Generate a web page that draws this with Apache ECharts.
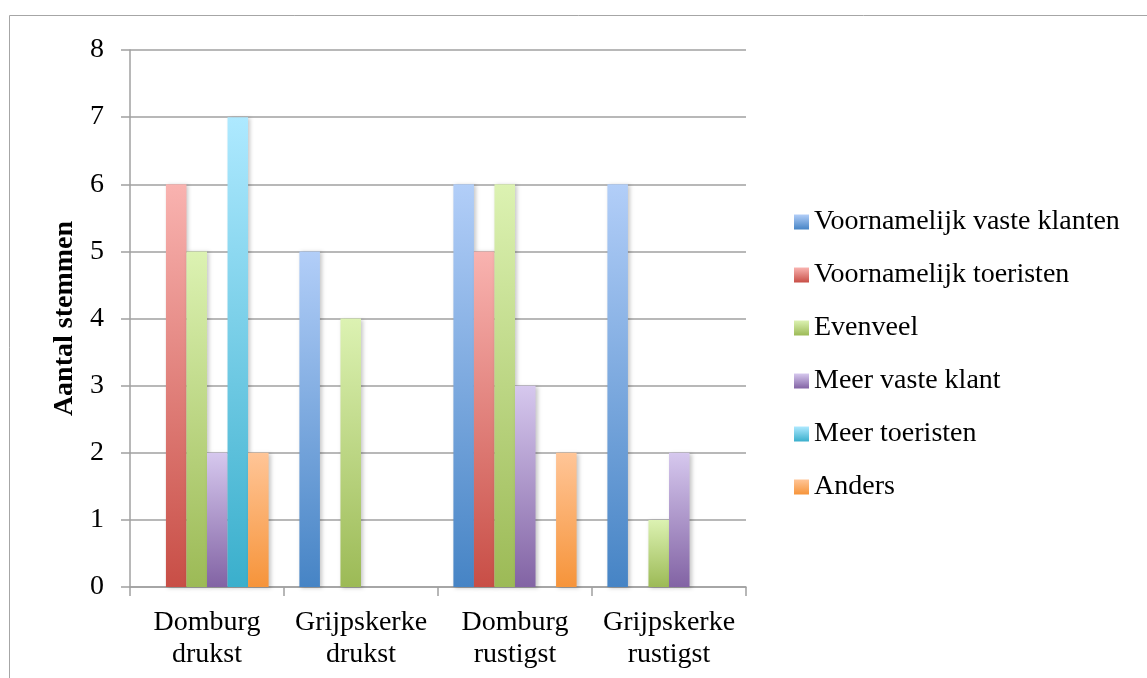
<!DOCTYPE html>
<html>
<head>
<meta charset="utf-8">
<script src="https://cdn.jsdelivr.net/npm/echarts@6/dist/echarts.min.js"></script>
<style>
  html, body { margin: 0; padding: 0; background: #fff; }
  #chart { width: 1147px; height: 678px; }
</style>
</head>
<body>
<div id="chart"></div>
<script>
// Categories (two-line labels) and vote counts per answer
const categories = ['Domburg\ndrukst', 'Grijpskerke\ndrukst', 'Domburg\nrustigst', 'Grijpskerke\nrustigst'];
const seriesNames = ['Voornamelijk vaste klanten', 'Voornamelijk toeristen', 'Evenveel', 'Meer vaste klant', 'Meer toeristen', 'Anders'];
const vasteKlanten   = [0, 5, 6, 6];
const toeristen      = [6, 0, 5, 0];
const evenveel       = [5, 4, 6, 1];
const meerVasteKlant = [2, 0, 3, 2];
const meerToeristen  = [7, 0, 0, 0];
const anders         = [2, 0, 2, 0];
const yTicks = [0, 1, 2, 3, 4, 5, 6, 7, 8];

const seriesData = [vasteKlanten, toeristen, evenveel, meerVasteKlant, meerToeristen, anders];
// light top -> saturated bottom gradient for each series
const gradients = [
  ['#b2cef8', '#4684c5'],
  ['#f9b3b0', '#c84e46'],
  ['#dcf2b2', '#9cba56'],
  ['#d6c8ee', '#8263a4'],
  ['#aee9ff', '#3aafcc'],
  ['#ffc597', '#f6943a']
];

const FONT = '"Liberation Serif", "DejaVu Serif", serif';

const chart = echarts.init(document.getElementById('chart'), null, { renderer: 'canvas' });

chart.setOption({
  backgroundColor: '#ffffff',
  animation: false,
  textStyle: { fontFamily: FONT, color: '#000' },
  graphic: [{
    type: 'rect',
    shape: { x: 9.5, y: 15.5, width: 1300, height: 800 },
    style: { fill: 'none', stroke: '#a6a6a6', lineWidth: 1 },
    silent: true
  }],
  grid: { left: 130, right: 401, top: 50, bottom: 91 },
  legend: {
    orient: 'vertical',
    left: 794,
    top: 208,
    padding: 0,
    itemWidth: 15,
    itemHeight: 15,
    itemGap: 25,
    icon: 'rect',
    textStyle: { fontFamily: FONT, fontSize: 28, color: '#000' },
    data: seriesNames
  },
  xAxis: {
    type: 'category',
    data: categories,
    axisLine: { show: true, lineStyle: { color: '#a0a0a0', width: 1.5 } },
    axisTick: { show: true, length: 9, alignWithLabel: false, lineStyle: { color: '#a0a0a0', width: 1.5 } },
    axisLabel: { fontFamily: FONT, fontSize: 28, color: '#000', lineHeight: 32, margin: 20, interval: 0 }
  },
  yAxis: {
    type: 'value',
    min: 0,
    max: 8,
    interval: 1,
    name: 'Aantal stemmen',
    nameLocation: 'middle',
    nameGap: 45,
    nameRotate: 90,
    nameTextStyle: { fontFamily: FONT, fontSize: 28, fontWeight: 'bold', color: '#000' },
    axisLine: { show: true, lineStyle: { color: '#a0a0a0', width: 1.5 } },
    axisTick: { show: true, length: 9, inside: false, lineStyle: { color: '#a0a0a0', width: 1.5 } },
    axisLabel: {
      fontFamily: FONT, fontSize: 28, color: '#000', margin: 26,
      formatter: v => (yTicks.includes(v) ? String(v) : '')
    },
    splitLine: { show: true, lineStyle: { color: '#a0a0a0', width: 1.5 } }
  },
  series: seriesNames.map((name, i) => ({
    name,
    type: 'bar',
    data: seriesData[i],
    barGap: '0%',
    barCategoryGap: '20%',
    itemStyle: {
      color: new echarts.graphic.LinearGradient(0, 0, 0, 1, [
        { offset: 0, color: gradients[i][0] },
        { offset: 1, color: gradients[i][1] }
      ]),
      shadowColor: 'rgba(0,0,0,0.22)',
      shadowBlur: 4,
      shadowOffsetX: 2,
      shadowOffsetY: 1
    }
  }))
});
</script>
</body>
</html>
